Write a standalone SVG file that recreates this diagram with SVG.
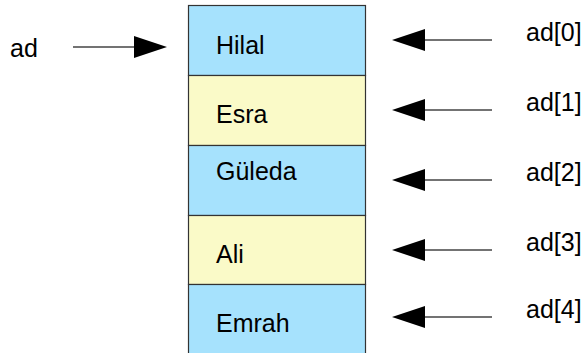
<svg xmlns="http://www.w3.org/2000/svg" width="583" height="353" viewBox="0 0 583 353">
  <style>
    text { font-family: "Liberation Sans", Arial, sans-serif; font-size: 25px; fill: #000; }
    .cell { stroke: #333; stroke-width: 1.2; }
    .blue { fill: #a6e2fd; }
    .yellow { fill: #fafac8; }
    .link { stroke: #444; stroke-width: 1.3; fill: none; }
    .head { fill: #000; }
  </style>
  <rect width="583" height="353" fill="#fff"/>

  <!-- array cells -->
  <g id="cell0"><rect class="cell blue" x="188.5" y="5.5" width="177" height="70"/><text x="216" y="54">Hilal</text></g>
  <g id="cell1"><rect class="cell yellow" x="188.5" y="75.5" width="177" height="70"/><text x="216" y="123">Esra</text></g>
  <g id="cell2"><rect class="cell blue" x="188.5" y="145.5" width="177" height="70"/><text x="216" y="180">Güleda</text></g>
  <g id="cell3"><rect class="cell yellow" x="188.5" y="215.5" width="177" height="69"/><text x="216" y="263">Ali</text></g>
  <g id="cell4"><rect class="cell blue" x="188.5" y="284.5" width="177" height="75"/><text x="216" y="332">Emrah</text></g>

  <!-- pointer and index labels -->
  <g id="label-ad"><text x="10" y="57">ad</text></g>
  <g id="label-ad0"><text x="526" y="41">ad[0]</text></g>
  <g id="label-ad1"><text x="526" y="111">ad[1]</text></g>
  <g id="label-ad2"><text x="526" y="181">ad[2]</text></g>
  <g id="label-ad3"><text x="526" y="251">ad[3]</text></g>
  <g id="label-ad4"><text x="526" y="318">ad[4]</text></g>

  <!-- connectors -->
  <g id="connectors">
    <line class="link" x1="73" y1="47" x2="135" y2="47"/>
    <polygon class="head" points="134,36 167,47 134,58"/>

    <line class="link" x1="424" y1="40" x2="492" y2="40"/>
    <polygon class="head" points="425,29 392,40 425,51"/>

    <line class="link" x1="424" y1="110" x2="492" y2="110"/>
    <polygon class="head" points="425,99 392,110 425,121"/>

    <line class="link" x1="424" y1="180" x2="492" y2="180"/>
    <polygon class="head" points="425,169 392,180 425,191"/>

    <line class="link" x1="424" y1="250" x2="492" y2="250"/>
    <polygon class="head" points="425,239 392,250 425,261"/>

    <line class="link" x1="424" y1="317" x2="492" y2="317"/>
    <polygon class="head" points="425,306 392,317 425,328"/>
  </g>
</svg>
